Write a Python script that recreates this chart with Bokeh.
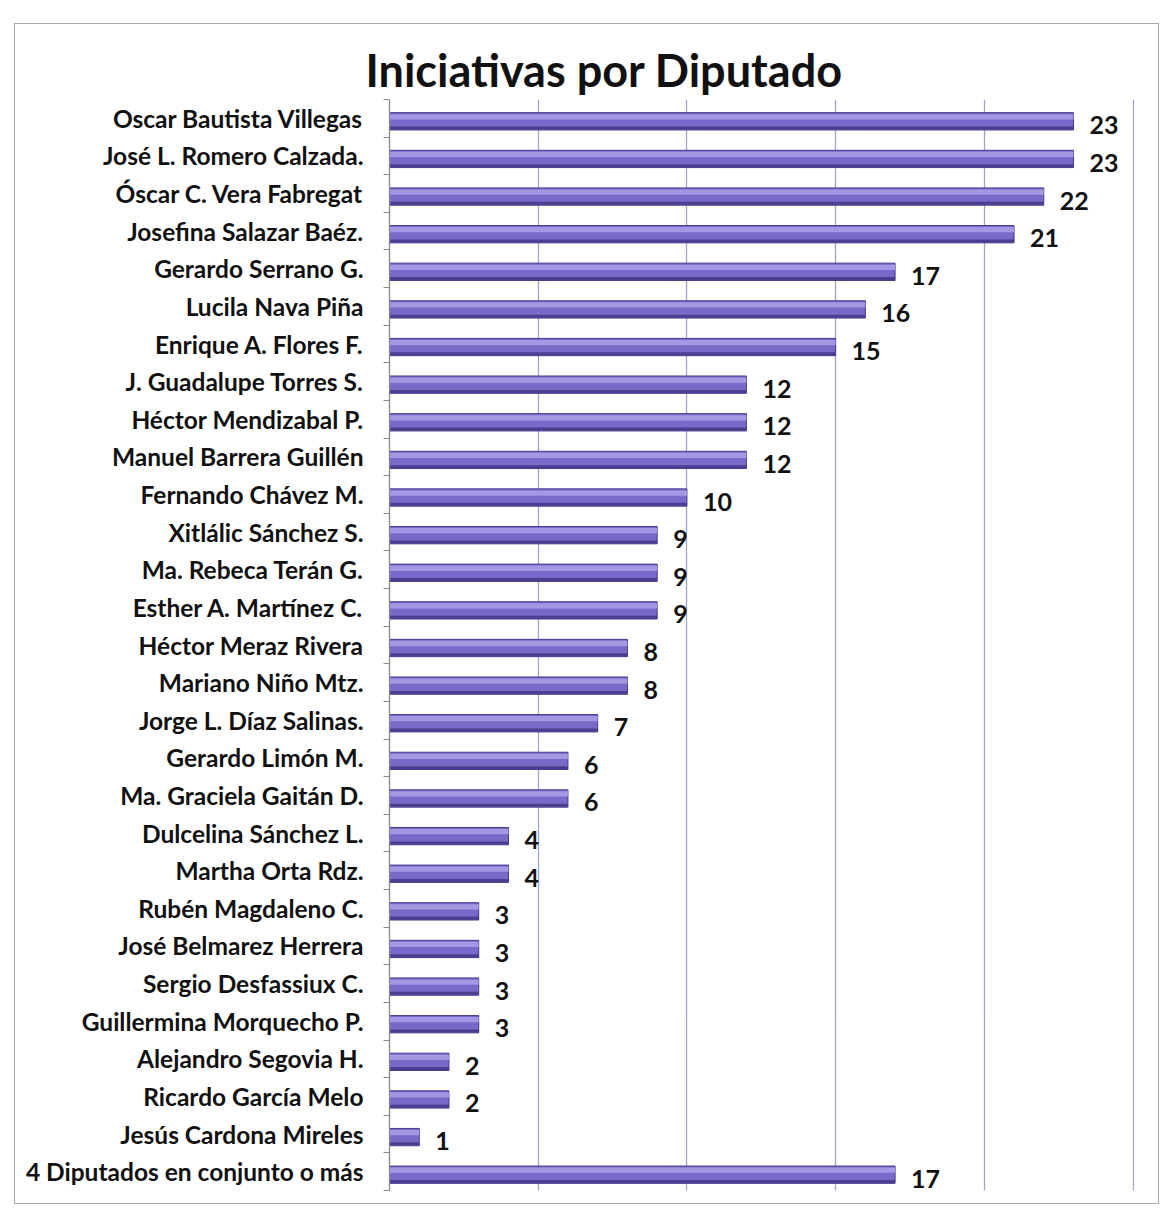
from bokeh.plotting import figure
from bokeh.models import Range1d, FixedTicker, ColumnDataSource, LabelSet
from bokeh.core.properties import value
from bokeh.embed import file_html
from bokeh.resources import INLINE

names = [
    "Oscar Bautista Villegas", "José L. Romero Calzada.", "Óscar C. Vera Fabregat",
    "Josefina Salazar Baéz.", "Gerardo Serrano G.", "Lucila Nava Piña",
    "Enrique A. Flores F.", "J. Guadalupe Torres S.", "Héctor Mendizabal P.",
    "Manuel Barrera Guillén", "Fernando Chávez M.", "Xitlálic Sánchez S.",
    "Ma. Rebeca Terán G.", "Esther A. Martínez C.", "Héctor Meraz Rivera",
    "Mariano Niño Mtz.", "Jorge L. Díaz Salinas.", "Gerardo Limón M.",
    "Ma. Graciela Gaitán D.", "Dulcelina Sánchez L.", "Martha Orta Rdz.",
    "Rubén Magdaleno C.", "José Belmarez Herrera", "Sergio Desfassiux C.",
    "Guillermina Morquecho P.", "Alejandro Segovia H.", "Ricardo García Melo",
    "Jesús Cardona Mireles", "4 Diputados en conjunto o más",
]
values = [23, 23, 22, 21, 17, 16, 15, 12, 12, 12, 10, 9, 9, 9, 8, 8, 7, 6, 6,
          4, 4, 3, 3, 3, 3, 2, 2, 1, 17]
grid_ticks = [5, 10, 15, 20, 25]
title_text = "Iniciativas por Diputado"

n = len(names)
idx = list(range(n))
bar_y = [i + 0.08 for i in idx]
hi_y = [y - 0.12 for y in bar_y]
lo_y = [y + 0.18 for y in bar_y]

src = ColumnDataSource(dict(y=bar_y, hy=hi_y, ly=lo_y, v=values,
                            lab=[str(v) for v in values]))

p = figure(width=1145, height=1181, output_backend="svg", toolbar_location=None,
           x_range=Range1d(0, 25.05), y_range=Range1d(n - 0.5, -0.5),
           min_border_left=374, min_border_right=26, min_border_top=75,
           min_border_bottom=15)
p.styles = {"border": "1px solid #a8a8a8", "margin": "23px 0 0 14px"}

p.title.text = title_text
p.title.text_font = "Lato"
p.title.text_font_style = "bold"
p.title.text_font_size = "45px"
p.title.text_color = "#111111"
p.title.align = "left"
p.title.offset = -24
p.title.standoff = 6

p.outline_line_color = None
p.background_fill_color = "white"

# bars with 3D-like shading
p.hbar(y="y", right="v", left=0, height=0.46, source=src,
       fill_color="#776ac8", line_color="#463a8c", line_width=1)
p.hbar(y="hy", right="v", left=0, height=0.14, source=src,
       fill_color="#a497e3", line_color=None)
p.hbar(y="ly", right="v", left=0, height=0.08, source=src,
       fill_color="#4a3e90", line_color=None)

labels = LabelSet(x="v", y="y", text="lab", source=src, x_offset=16, y_offset=-4,
                  text_font=value("Lato"), text_font_style="bold",
                  text_font_size="25px", text_baseline="middle",
                  text_color="#111111")
p.add_layout(labels)

# axes
p.xaxis.visible = False
p.xgrid.ticker = FixedTicker(ticks=grid_ticks)
p.xgrid.grid_line_color = "#a3a3cf"
p.xgrid.grid_line_width = 1.3
p.ygrid.grid_line_color = None

yax = p.yaxis[0]
yax.ticker = FixedTicker(ticks=idx, minor_ticks=[i - 0.5 for i in idx] + [n - 0.5])
yax.major_label_overrides = {i: nm for i, nm in zip(idx, names)}
yax.major_tick_line_color = None
yax.minor_tick_in = 0
yax.minor_tick_out = 6
yax.minor_tick_line_color = "#8a8a8a"
yax.axis_line_color = "#8a8a8a"
yax.axis_line_width = 1.3
yax.major_label_standoff = 20
yax.major_label_text_font = "Lato"
yax.major_label_text_font_style = "bold"
yax.major_label_text_font_size = "24.5px"
yax.major_label_text_color = "#111111"

open("out.html", "w").write(file_html(p, INLINE))
